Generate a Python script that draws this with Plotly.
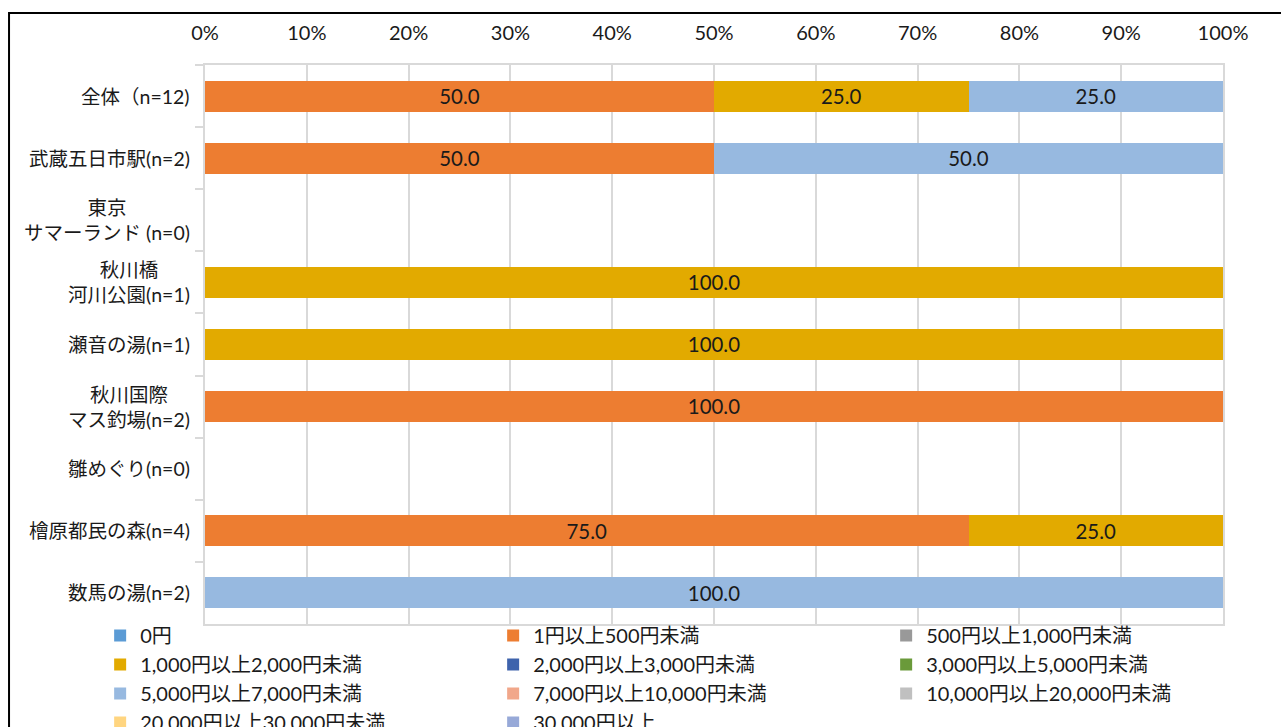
import plotly.graph_objects as go

# Survey sites (top to bottom) and spending brackets
categories = [
    "全体（n=12)",
    "武蔵五日市駅(n=2)",
    "東京<br>サマーランド (n=0)",
    "秋川橋<br>河川公園(n=1)",
    "瀬音の湯(n=1)",
    "秋川国際<br>マス釣場(n=2)",
    "雛めぐり(n=0)",
    "檜原都民の森(n=4)",
    "数馬の湯(n=2)",
]

brackets = [
    "0円",
    "1円以上500円未満",
    "500円以上1,000円未満",
    "1,000円以上2,000円未満",
    "2,000円以上3,000円未満",
    "3,000円以上5,000円未満",
    "5,000円以上7,000円未満",
    "7,000円以上10,000円未満",
    "10,000円以上20,000円未満",
    "20,000円以上30,000円未満",
    "30,000円以上",
]

colors = [
    "#5B9BD5", "#ED7D31", "#999999", "#E2AA00", "#3E63AC", "#6A9A3A",
    "#97B9E0", "#F1A78A", "#C0C0C0", "#FFD580", "#97A9D8",
]

# Share (%) per bracket, one value per site; None = no answers
v_0 = [None] * 9
v_1_500 = [50.0, 50.0, None, None, None, 100.0, None, 75.0, None]
v_500_1000 = [None] * 9
v_1000_2000 = [25.0, None, None, 100.0, 100.0, None, None, 25.0, None]
v_2000_3000 = [None] * 9
v_3000_5000 = [None] * 9
v_5000_7000 = [25.0, 50.0, None, None, None, None, None, None, 100.0]
v_7000_10000 = [None] * 9
v_10000_20000 = [None] * 9
v_20000_30000 = [None] * 9
v_30000 = [None] * 9

series = [v_0, v_1_500, v_500_1000, v_1000_2000, v_2000_3000, v_3000_5000,
          v_5000_7000, v_7000_10000, v_10000_20000, v_20000_30000, v_30000]

FONT = "Lato, 'Noto Sans CJK JP', sans-serif"
INK = "#1a1a1a"

fig = go.Figure()
for name, vals, col in zip(brackets, series, colors):
    fig.add_trace(go.Bar(
        y=categories, x=vals, name=name, orientation="h",
        marker=dict(color=col, line=dict(width=0)),
        texttemplate="%{x:.1f}", textposition="inside",
        insidetextanchor="middle",
        textfont=dict(family=FONT, size=22, color=INK),
        cliponaxis=False,
    ))

# Site labels, centred line by line
for cat in categories:
    fig.add_annotation(
        x=0, xref="paper", y=cat, yref="y", xanchor="right", xshift=-13,
        text=cat, showarrow=False, align="center",
        font=dict(family=FONT, size=19.5, color=INK),
    )

# Outer chart frame
fig.add_shape(type="rect", xref="paper", yref="paper",
              x0=-0.1925, x1=1.2, y0=-0.5, y1=1.093,
              line=dict(color="black", width=2), layer="above")

fig.update_layout(
    width=1281, height=727,
    margin=dict(l=205, r=58, t=65, b=103, autoexpand=False),
    barmode="stack", bargap=0.5,
    plot_bgcolor="white", paper_bgcolor="white",
    font=dict(family=FONT, size=19, color=INK),
    showlegend=True,
    legend=dict(
        orientation="h", x=-0.103, xanchor="left", y=-0.211, yanchor="bottom",
        entrywidth=348, tracegroupgap=0, traceorder="normal",
        itemclick=False,
        font=dict(family=FONT, size=20, color=INK),
        bgcolor="rgba(0,0,0,0)",
    ),
)

fig.update_xaxes(
    side="top", range=[0, 100], dtick=10, ticksuffix="%",
    showgrid=True, gridcolor="#d9d9d9", gridwidth=2,
    showline=True, linecolor="#d9d9d9", linewidth=2, mirror=True,
    ticks="outside", ticklen=15, tickcolor="rgba(0,0,0,0)",
    tickfont=dict(family=FONT, size=20, color=INK),
    zeroline=False, fixedrange=True,
)
fig.update_yaxes(
    autorange="reversed", type="category", showticklabels=False,
    showline=True, linecolor="#d9d9d9", linewidth=2, mirror=True,
    ticks="outside", ticklen=8, tickcolor="#d9d9d9", tickwidth=2,
    tickson="boundaries", showgrid=False, fixedrange=True,
)

fig.write_html("out.html")
